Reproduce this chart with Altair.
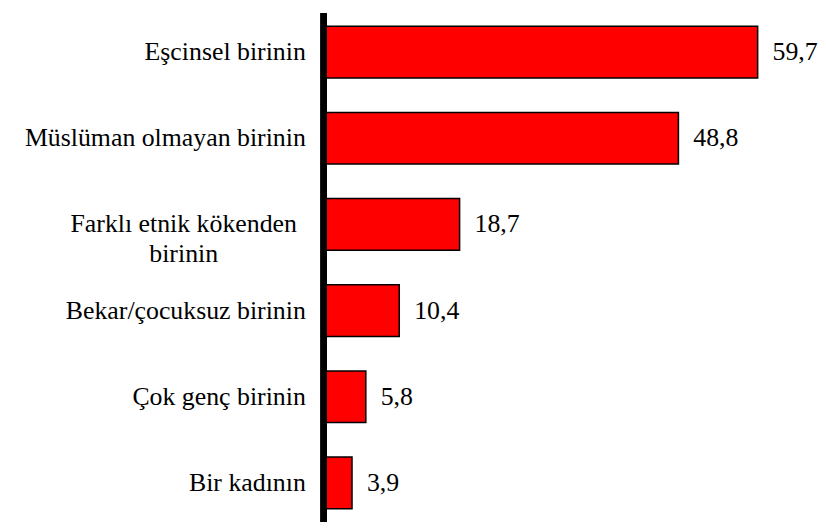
import altair as alt
import pandas as pd

categories = [
    "Eşcinsel birinin",
    "Müslüman olmayan birinin",
    "Farklı etnik kökenden\nbirinin",
    "Bekar/çocuksuz birinin",
    "Çok genç birinin",
    "Bir kadının",
]
values = [59.7, 48.8, 18.7, 10.4, 5.8, 3.9]

df = pd.DataFrame({"category": categories, "value": values})

W = 498
H = 513
FONT = "Liberation Serif"

y_enc = alt.Y(
    "category:N",
    sort=categories,
    scale=alt.Scale(paddingInner=0.4, paddingOuter=0.155),
    axis=None,
)
x_scale = alt.Scale(domain=[0, 68.0], nice=False, zero=True)

base = alt.Chart(df)

bars = base.mark_bar(color="#FF0000", stroke="black", strokeWidth=1.5).encode(
    x=alt.X("value:Q", scale=x_scale, axis=None),
    y=y_enc,
)

value_labels = base.transform_calculate(
    lab="replace(format(datum.value, '.1f'), '.', ',')"
).mark_text(
    align="left", baseline="middle", dx=15, font=FONT, fontSize=26
).encode(
    x=alt.X("value:Q", scale=x_scale),
    y=y_enc,
    text="lab:N",
)

single_labels = base.transform_filter(
    'indexof(datum.category, "\\n") < 0'
).mark_text(
    align="right", baseline="middle", font=FONT, fontSize=26
).encode(
    x=alt.value(-18),
    y=y_enc,
    text="category:N",
)

multi_labels = base.transform_filter(
    'indexof(datum.category, "\\n") >= 0'
).mark_text(
    align="center", baseline="middle", font=FONT, fontSize=26,
    lineBreak="\n", lineHeight=30
).encode(
    x=alt.value(-141),
    y=y_enc,
    text="category:N",
)

axis_line = base.mark_rule(color="black", strokeWidth=6).encode(
    x=alt.value(0), y=alt.value(0), y2=alt.value(H)
)

chart = alt.layer(bars, axis_line, value_labels, single_labels, multi_labels).properties(
    width=W,
    height=H,
    padding={"left": 16, "top": 0, "right": 0, "bottom": 0},
    view=alt.ViewBackground(stroke=None),
)

chart.save("out.html", embed_options={"renderer": "svg", "actions": False})
